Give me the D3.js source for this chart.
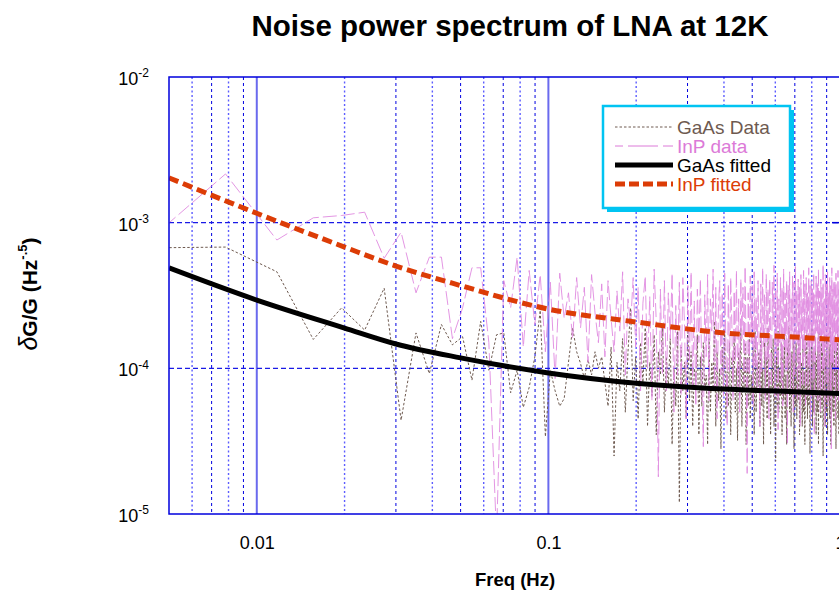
<!DOCTYPE html>
<html>
<head>
<meta charset="utf-8">
<title>Noise power spectrum of LNA at 12K</title>
<script src="https://cdn.jsdelivr.net/npm/d3@7"></script>
<style>
  body { margin: 0; background: #fff; }
  text { font-family: Arial, "Liberation Sans", sans-serif; }
</style>
</head>
<body>
<svg width="839" height="592"></svg>
<script>
// spectrum bins: k * binWidth Hz, k = 1..256
var binWidth = 1 / 256;
// all values below in units of 1e-4
var unit = 1e-4;

var gaasData = [
  6.7, 6.8, 4.6, 1.58, 2.6, 1.83, 3.55, 0.44, 1.75, 0.92,
  2.0, 1.45, 1.65, 0.83, 2.1, 0.97, 1.7, 1.75, 0.68, 0.97,
  0.54, 0.74, 1.2, 2.5, 0.34, 0.97, 0.7, 0.55, 0.62, 1.1,
  1.9, 1.3, 1.08, 0.85, 1.15, 0.9, 1.3, 1.0, 1.2, 0.8,
  0.55, 1.4, 0.25, 1.1, 0.7, 1.6, 0.5, 1.3, 2.6, 0.6, 1.2, 0.45,
  1.5, 0.8, 1.9, 0.4, 1.1, 0.65, 1.7, 0.35, 1.3, 0.9, 2.0, 0.5,
  1.2, 0.75, 1.6, 0.3, 1.0, 0.55, 1.8, 0.12, 1.4, 0.7, 1.1, 0.45,
  1.9, 0.6, 1.3, 0.4, 1.0, 0.8, 1.7, 0.35, 1.2, 0.55, 1.5, 0.7,
  0.9, 0.3, 1.6, 0.5, 1.1, 0.75, 2.1, 0.4, 1.3, 0.6, 1.0, 0.28,
  1.4, 0.7, 1.8, 0.45, 0.95, 0.55, 1.5, 0.35, 1.2, 0.8, 1.7, 0.5,
  1.0, 0.32, 1.3, 0.65, 1.9, 0.4, 1.1, 0.7, 1.5, 0.3, 1.2, 0.55,
  1.6, 0.45, 0.9, 0.6, 1.4, 0.35, 1.8, 0.5, 1.1, 0.75, 1.3, 0.4,
  1.7, 0.55, 1.0, 0.3, 1.5, 0.65, 1.2, 0.45, 1.9, 0.6, 0.95, 0.35,
  1.4, 0.7, 1.6, 0.4, 1.1, 0.23, 1.3, 0.55, 1.8, 0.5, 1.0, 0.65,
  1.5, 0.35, 1.2, 0.6, 1.7, 0.45, 0.9, 0.3, 1.4, 0.7, 1.9, 0.5,
  1.1, 0.4, 1.3, 0.65, 1.6, 0.28, 1.2, 0.55, 1.5, 0.45, 1.0, 0.6,
  1.8, 0.35, 1.3, 0.7, 1.1, 0.4, 1.6, 0.5, 0.95, 0.3, 1.4, 0.6,
  1.7, 0.45, 1.2, 0.55, 1.5, 0.26, 1.0, 0.65, 1.9, 0.4, 1.3, 0.5,
  1.1, 0.7, 1.6, 0.35, 1.2, 0.5, 1.4, 0.3, 1.8, 0.6, 1.0, 0.45,
  1.5, 0.55, 1.3, 0.25, 1.1, 0.65, 1.7, 0.4, 1.2, 0.5, 1.6, 0.35,
  0.95, 0.6, 1.4, 0.45, 1.9, 0.3, 1.1, 0.7, 1.5, 0.5, 1.2, 0.4,
  1.6, 0.55, 1.0, 0.28, 1.4, 0.65, 1.8, 0.45, 1.2, 0.35, 1.5, 0.6
];

var inpData = [
  6.5, 21.6, 7.6, 10.8, 11.2, 11.8, 5.7, 8.6, 3.3, 5.8,
  5.8, 1.6, 2.6, 4.9, 4.9, 1.5, 0.07, 4.0, 2.6, 5.8,
  1.4, 4.7, 2.0, 4.4, 1.3, 3.9, 0.85, 4.5, 2.2, 3.3,
  1.6, 4.2, 1.9, 3.6, 1.1, 4.4, 2.4, 1.5, 3.8, 1.2,
  4.0, 2.2, 1.3, 3.4, 1.8, 4.6, 0.9, 3.0, 2.0, 4.2, 1.4, 3.6,
  0.7, 2.8, 4.3, 1.0, 3.1, 0.6, 4.8, 2.1, 0.18, 3.5, 0.9, 4.0,
  0.7, 3.3, 1.6, 4.5, 0.5, 2.7, 0.9, 3.9, 0.65, 4.2, 2.0, 0.45,
  3.7, 1.1, 4.6, 0.75, 2.9, 0.55, 3.5, 1.5, 4.1, 0.8, 0.29, 3.2,
  1.2, 4.4, 0.6, 3.0, 1.8, 4.8, 0.7, 3.6, 0.45, 2.6, 4.0, 0.9,
  3.3, 0.65, 4.5, 1.4, 0.4, 3.8, 0.95, 4.2, 2.0, 0.6, 3.4, 1.1,
  4.7, 0.75, 3.0, 0.5, 4.1, 1.6, 3.6, 0.8, 5.0, 1.3, 0.19, 3.3,
  0.9, 4.3, 1.5, 3.7, 0.55, 4.6, 1.0, 3.1, 0.7, 4.0, 1.8, 0.4,
  3.8, 0.95, 4.9, 1.4, 3.2, 0.6, 4.4, 1.1, 3.5, 0.45, 4.1, 1.7,
  0.75, 3.9, 2.0, 5.1, 0.65, 3.4, 1.2, 4.5, 0.38, 3.0, 1.5, 4.2,
  0.8, 3.6, 0.55, 4.8, 1.4, 3.3, 0.95, 4.0, 0.3, 3.7, 1.1, 4.6,
  0.7, 3.1, 1.6, 4.3, 0.5, 3.9, 0.9, 5.0, 1.5, 3.4, 0.6, 4.1,
  1.0, 3.6, 0.4, 4.4, 1.6, 3.0, 0.75, 4.7, 1.2, 3.8, 0.55, 4.2,
  1.7, 3.3, 0.65, 4.9, 1.0, 3.7, 0.45, 4.0, 1.4, 3.5, 0.8, 4.5,
  0.35, 3.2, 1.1, 4.3, 1.8, 3.9, 0.6, 4.8, 0.9, 3.4, 0.5, 4.1,
  1.5, 3.6, 0.7, 5.2, 1.0, 3.0, 0.4, 4.4, 1.4, 3.8, 0.8, 4.6,
  0.55, 3.3, 1.7, 4.2, 0.65, 3.7, 0.28, 4.9, 1.1, 3.5, 0.75, 4.0,
  1.3, 3.9, 0.45, 4.5, 0.95, 3.2, 1.6, 4.7, 0.6, 3.6, 1.2, 4.3
];

// fitted curves read at a few frequencies
var fitFreq = [0.005, 0.01, 0.02, 0.03, 0.05, 0.1, 0.2, 0.4, 0.7, 1.0];
var gaasFit = [4.89, 2.94, 1.89, 1.47, 1.18, 0.93, 0.79, 0.72, 0.69, 0.67];
var inpFit  = [20.3, 11.6, 6.8, 5.04, 3.7, 2.55, 2.08, 1.75, 1.64, 1.57];

var xMajor = [0.01, 0.1, 1];
var xMajorLabels = ["0.01", "0.1", "1"];
var xMinor = [0.006, 0.007, 0.008, 0.009, 0.02, 0.03, 0.04, 0.05, 0.06, 0.07, 0.08, 0.09,
              0.2, 0.3, 0.4, 0.5, 0.6, 0.7, 0.8, 0.9];
var yMajor = [1e-2, 1e-3, 1e-4, 1e-5];
var yMajorExp = ["-2", "-3", "-4", "-5"];

var seriesNames = ["GaAs Data", "InP data", "GaAs fitted", "InP fitted"];
var seriesColors = ["#6e5a50", "#dc7ad8", "#000000", "#dc3c06"];

var svg = d3.select("svg");
var plot = { left: 169, right: 840, top: 77, bottom: 514 };

var x = d3.scaleLog().domain([0.005, 1]).range([plot.left, plot.right]);
var y = d3.scaleLog().domain([1e-5, 1e-2]).range([plot.bottom, plot.top]);

svg.append("clipPath").attr("id", "clip")
  .append("rect")
  .attr("x", plot.left).attr("y", plot.top)
  .attr("width", plot.right - plot.left).attr("height", plot.bottom - plot.top);

// grid
var grid = svg.append("g");
grid.selectAll(".minor").data(xMinor).enter().append("line")
  .attr("x1", function (d) { return x(d); }).attr("x2", function (d) { return x(d); })
  .attr("y1", plot.top).attr("y2", plot.bottom)
  .attr("stroke", function (d, i) { return i % 2 ? "#0000e0" : "#5c5cff"; })
  .attr("stroke-width", function (d, i) { return i % 2 ? 1 : 1.4; })
  .attr("stroke-dasharray", function (d, i) { return i % 2 ? "3,3" : "2,2.5"; });
grid.selectAll(".major").data(xMajor.slice(0, 2)).enter().append("line")
  .attr("x1", function (d) { return x(d); }).attr("x2", function (d) { return x(d); })
  .attr("y1", plot.top).attr("y2", plot.bottom)
  .attr("stroke", "#6a6aee").attr("stroke-width", 2);
grid.selectAll(".hgrid").data(yMajor.slice(1, 3)).enter().append("line")
  .attr("x1", plot.left).attr("x2", plot.right)
  .attr("y1", function (d) { return y(d); }).attr("y2", function (d) { return y(d); })
  .attr("stroke", "#1a1ae6").attr("stroke-width", 1.3).attr("stroke-dasharray", "5,3");

// data lines
var line = d3.line()
  .x(function (d) { return x(d[0]); })
  .y(function (d) { return y(d[1]); });

function bins(arr) {
  return arr.map(function (v, i) { return [(i + 1) * binWidth, v * unit]; });
}

var lines = svg.append("g").attr("clip-path", "url(#clip)");

lines.append("path")
  .attr("d", line(bins(gaasData)))
  .attr("fill", "none").attr("stroke", seriesColors[0])
  .attr("stroke-width", 1).attr("stroke-dasharray", "2.5,2");

lines.append("path")
  .attr("d", line(bins(inpData)))
  .attr("fill", "none").attr("stroke", "#e08ae0")
  .attr("stroke-width", 0.9).attr("stroke-dasharray", "14,4");

var fitLine = d3.line()
  .x(function (d) { return x(d[0]); })
  .y(function (d) { return y(d[1]); })
  .curve(d3.curveMonotoneX);

lines.append("path")
  .attr("d", fitLine(fitFreq.map(function (f, i) { return [f, gaasFit[i] * unit]; })))
  .attr("fill", "none").attr("stroke", seriesColors[2]).attr("stroke-width", 5);

lines.append("path")
  .attr("d", fitLine(fitFreq.map(function (f, i) { return [f, inpFit[i] * unit]; })))
  .attr("fill", "none").attr("stroke", seriesColors[3]).attr("stroke-width", 5)
  .attr("stroke-dasharray", "10,5");

// frame and inward ticks
svg.append("rect")
  .attr("x", plot.left).attr("y", plot.top)
  .attr("width", plot.right - plot.left).attr("height", plot.bottom - plot.top)
  .attr("fill", "none").attr("stroke", "#0000dd").attr("stroke-width", 1.5);

svg.append("g").selectAll("line").data(yMajor.slice(1, 3)).enter().append("line")
  .attr("x1", plot.right - 8).attr("x2", plot.right)
  .attr("y1", function (d) { return y(d); }).attr("y2", function (d) { return y(d); })
  .attr("stroke", "#0000dd").attr("stroke-width", 1.5);

// x axis labels
var xAxis = svg.append("g")
  .attr("transform", "translate(0," + plot.bottom + ")")
  .call(d3.axisBottom(x).tickValues(xMajor).tickSize(0).tickPadding(22)
    .tickFormat(function (d, i) { return xMajorLabels[i]; }));
xAxis.select(".domain").remove();
xAxis.selectAll("text").attr("font-size", 18).attr("fill", "#000")
  .style("font-family", "Arial, 'Liberation Sans', sans-serif");

// y axis labels with superscripts
var yAxis = svg.append("g")
  .attr("transform", "translate(" + plot.left + ",0)")
  .call(d3.axisLeft(y).tickValues(yMajor).tickSize(0).tickPadding(20).tickFormat(""));
yAxis.select(".domain").remove();
yAxis.selectAll(".tick text").each(function (d, i) {
  var t = d3.select(this).attr("font-size", 18).attr("fill", "#000").attr("dy", "0.42em")
    .style("font-family", "Arial, 'Liberation Sans', sans-serif");
  t.append("tspan").text("10");
  t.append("tspan").attr("font-size", 12).attr("dy", "-0.65em").text(yMajorExp[i]);
});

// titles
svg.append("text")
  .attr("x", 510).attr("y", 36).attr("text-anchor", "middle")
  .attr("font-size", 29.5).attr("font-weight", "bold")
  .text("Noise power spectrum of LNA at 12K");

svg.append("text")
  .attr("x", 515).attr("y", 586).attr("text-anchor", "middle")
  .attr("font-size", 18.5).attr("font-weight", "bold")
  .text("Freq (Hz)");

var yl = svg.append("text")
  .attr("transform", "translate(37,294) rotate(-90)")
  .attr("text-anchor", "middle")
  .attr("font-size", 21).attr("font-weight", "bold");
yl.append("tspan").attr("font-style", "italic").attr("font-weight", "normal").attr("font-size", 25).text("δ");
yl.append("tspan").text("G/G (Hz");
yl.append("tspan").attr("font-size", 13).attr("dy", "-0.75em").text("-.5");
yl.append("tspan").attr("dy", "0.47em").text(")");

// legend
var lg = { x: 603, y: 106, w: 187, h: 102 };
svg.append("rect")
  .attr("x", lg.x + 4).attr("y", lg.y + 4).attr("width", lg.w).attr("height", lg.h)
  .attr("fill", "#00c4f2");
svg.append("rect")
  .attr("x", lg.x).attr("y", lg.y).attr("width", lg.w).attr("height", lg.h)
  .attr("fill", "#fff").attr("stroke", "#00c4f2").attr("stroke-width", 2.5);

var legendDash = ["2.5,2", "8,5,22,0", null, "10,4"];
var legendWidth = [1, 1, 5, 5];
var rowY = [127, 146, 165, 184];

var rows = svg.append("g").selectAll("g").data(seriesNames).enter().append("g")
  .attr("transform", function (d, i) { return "translate(0," + rowY[i] + ")"; });
rows.append("line")
  .attr("x1", 615).attr("x2", 673)
  .attr("stroke", function (d, i) { return seriesColors[i]; })
  .attr("stroke-width", function (d, i) { return legendWidth[i]; })
  .attr("stroke-dasharray", function (d, i) { return legendDash[i]; });
rows.append("text")
  .attr("x", 677).attr("y", 6.5)
  .attr("font-size", 19)
  .attr("fill", function (d, i) { return seriesColors[i]; })
  .text(function (d) { return d; });
</script>
</body>
</html>
